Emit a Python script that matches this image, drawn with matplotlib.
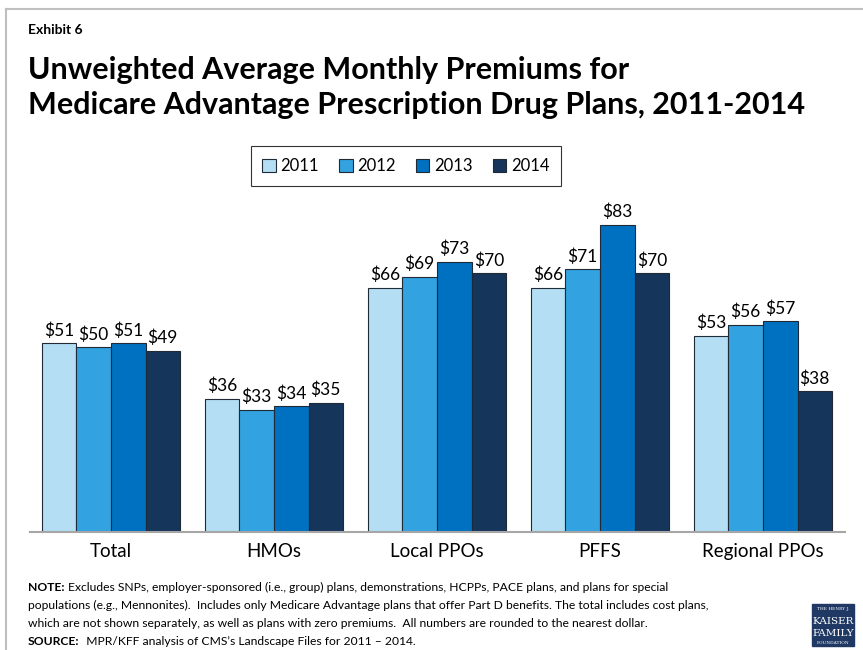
import matplotlib
matplotlib.use("Agg")
import matplotlib.pyplot as plt
import numpy as np
from matplotlib.lines import Line2D
from matplotlib.patches import Rectangle

plt.rcParams['font.family'] = ['Lato', 'DejaVu Sans']

# premiums by plan type, dollars per month
categories = ['Total', 'HMOs', 'Local PPOs', 'PFFS', 'Regional PPOs']
years = ['2011', '2012', '2013', '2014']
prem_2011 = [51, 36, 66, 66, 53]
prem_2012 = [50, 33, 69, 71, 56]
prem_2013 = [51, 34, 73, 83, 57]
prem_2014 = [49, 35, 70, 70, 38]
series = [prem_2011, prem_2012, prem_2013, prem_2014]
colors = ['#B3DEF4', '#33A2E0', '#0070C0', '#16355A']

note_lines = [
    "Excludes SNPs, employer-sponsored (i.e., group) plans, demonstrations, HCPPs, PACE plans, and plans for special",
    "populations (e.g., Mennonites).  Includes only Medicare Advantage plans that offer Part D benefits. The total includes cost plans,",
    "which are not shown separately, as well as plans with zero premiums.  All numbers are rounded to the nearest dollar.",
]
source_text = "  MPR/KFF analysis of CMS\u2019s Landscape Files for 2011 \u2013 2014."

W, H = 863, 650
fig = plt.figure(figsize=(W / 100, H / 100), dpi=100)

def fx(px):
    return px / W

def fy(py):
    return 1 - py / H

# slide frame (top and left edges)
fig.add_artist(Line2D([fx(6), 1], [fy(9), fy(9)], color='#BFBFBF', lw=1.5))
fig.add_artist(Line2D([fx(6), fx(6)], [fy(9), 0], color='#BFBFBF', lw=1.5))

fig.text(fx(28), fy(34), "Exhibit 6", fontsize=10, fontweight='bold', va='baseline')
fig.text(fx(28), fy(79), "Unweighted Average Monthly Premiums for",
         fontsize=22, fontweight='bold', va='baseline')
fig.text(fx(28), fy(114), "Medicare Advantage Prescription Drug Plans, 2011-2014",
         fontsize=22, fontweight='bold', va='baseline')

ax = fig.add_axes([fx(29.5), fy(532), fx(815), 333 / H])
x = np.arange(len(categories))
bw = 0.212
for i, (vals, c) in enumerate(zip(series, colors)):
    pos = x + (i - 1.5) * bw
    bars = ax.bar(pos, vals, bw, color=c, edgecolor='#1F2A36', linewidth=0.8,
                  label=years[i])
    for b, v in zip(bars, vals):
        ax.text(b.get_x() + b.get_width() / 2, v + 1.2, f"${v}",
                ha='center', va='bottom', fontsize=12.5)

ax.set_xlim(-0.5, len(categories) - 0.5)
ax.set_ylim(0, 90)
ax.set_yticks([])
ax.set_xticks(x)
ax.set_xticklabels(categories, fontsize=13.5)
ax.tick_params(axis='x', length=0, pad=8)
for s in ['top', 'right', 'left']:
    ax.spines[s].set_visible(False)
ax.spines['bottom'].set_color('#A6A6A6')
ax.spines['bottom'].set_linewidth(1.5)

leg = fig.legend(loc='center', bbox_to_anchor=(fx(406), fy(166)), ncol=4,
                 fontsize=12, frameon=True, fancybox=False, edgecolor='black',
                 handlelength=0.8, handleheight=0.8, handletextpad=0.3,
                 columnspacing=1.2, borderpad=0.7)
leg.get_frame().set_linewidth(0.8)

# footnote with bold lead-ins
fig.canvas.draw()
renderer = fig.canvas.get_renderer()
note_y = [591, 609, 627, 645]
fs_note = 8.7
t = fig.text(fx(28), fy(note_y[0]), "NOTE:", fontsize=fs_note, fontweight='bold', va='baseline')
ext = t.get_window_extent(renderer)
fig.text(ext.x1 / W + fx(3), fy(note_y[0]), note_lines[0], fontsize=fs_note, va='baseline')
for yy, line in zip(note_y[1:3], note_lines[1:]):
    fig.text(fx(28), fy(yy), line, fontsize=fs_note, va='baseline')
t = fig.text(fx(28), fy(note_y[3]), "SOURCE:", fontsize=fs_note, fontweight='bold', va='baseline')
ext = t.get_window_extent(renderer)
fig.text(ext.x1 / W, fy(note_y[3]), source_text, fontsize=fs_note, va='baseline')

# foundation logo block
fig.add_artist(Rectangle((fx(812), fy(646)), fx(42), 42 / H, color='#1F3864'))
fig.text(fx(833), fy(610), "THE HENRY J.", fontsize=3.2, color='white', ha='center',
         family='DejaVu Serif')
fig.text(fx(833), fy(624), "KAISER", fontsize=7.5, color='white', ha='center',
         family='DejaVu Serif')
fig.text(fx(833), fy(636), "FAMILY", fontsize=7.5, color='white', ha='center',
         family='DejaVu Serif')
fig.text(fx(833), fy(644), "FOUNDATION", fontsize=3.2, color='white', ha='center',
         family='DejaVu Serif')

fig.savefig("out.png", dpi=100)
